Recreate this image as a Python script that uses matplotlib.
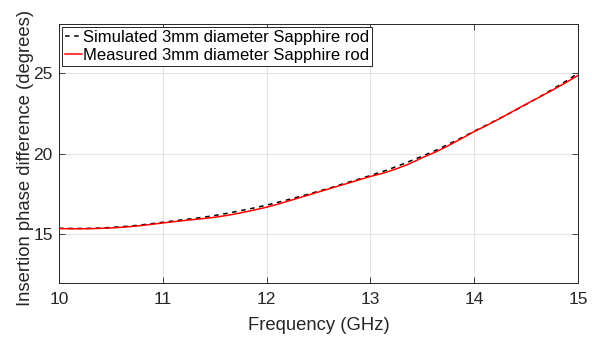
import matplotlib
matplotlib.use("Agg")
import matplotlib.pyplot as plt

plt.rcParams['font.family'] = ['Liberation Sans', 'DejaVu Sans']

freq_ghz = [10.0, 10.125, 10.25, 10.375, 10.5, 10.625, 10.75, 10.875,
            11.0, 11.125, 11.25, 11.375, 11.5, 11.625, 11.75, 11.875,
            12.0, 12.125, 12.25, 12.375, 12.5, 12.625, 12.75, 12.875,
            13.0, 13.125, 13.25, 13.375, 13.5, 13.625, 13.75, 13.875,
            14.0, 14.125, 14.25, 14.375, 14.5, 14.625, 14.75, 14.875, 15.0]
simulated_deg = [15.38, 15.37, 15.37, 15.39, 15.43, 15.49, 15.56, 15.65,
                 15.75, 15.85, 15.95, 16.05, 16.17, 16.31, 16.47, 16.63,
                 16.81, 17.01, 17.22, 17.44, 17.67, 17.90, 18.15, 18.39,
                 18.64, 18.90, 19.19, 19.51, 19.84, 20.18, 20.56, 20.96,
                 21.38, 21.78, 22.18, 22.60, 23.03, 23.48, 23.95, 24.43, 24.95]
measured_deg = [15.36, 15.35, 15.35, 15.37, 15.40, 15.45, 15.52, 15.61,
                15.71, 15.80, 15.89, 15.97, 16.06, 16.18, 16.33, 16.50,
                16.68, 16.90, 17.14, 17.38, 17.62, 17.86, 18.10, 18.34,
                18.58, 18.79, 19.05, 19.36, 19.74, 20.08, 20.48, 20.91,
                21.35, 21.75, 22.17, 22.61, 23.05, 23.47, 23.90, 24.35, 24.82]
x_ticks = [10, 11, 12, 13, 14, 15]
y_ticks = [15, 20, 25]

fig = plt.figure(figsize=(5.92, 3.37), dpi=100)
ax = fig.add_axes([59/592, 1-283/337, (578-59)/592, (283-24)/337])

ax.plot(freq_ghz, simulated_deg, color='black', linestyle=(0, (3, 3)), linewidth=1.1,
        label='Simulated 3mm diameter Sapphire rod', zorder=3)
ax.plot(freq_ghz, measured_deg, color='#ff0000', linewidth=1.1,
        label='Measured 3mm diameter Sapphire rod', zorder=4)

ax.set_xlim(10, 15)
ax.set_ylim(12, 28)
ax.set_xticks(x_ticks)
ax.set_yticks(y_ticks)
ax.grid(True, color='#e3e3e3', linewidth=0.8)
ax.set_axisbelow(True)
ax.tick_params(direction='in', top=True, right=True, labelsize=12.5,
               colors='#262626', length=4, width=0.6)
ax.tick_params(axis='x', pad=6.5)
ax.tick_params(axis='y', pad=4.5)
for sp in ax.spines.values():
    sp.set_color('#262626')
    sp.set_linewidth(0.7)

ax.set_xlabel('Frequency (GHz)', fontsize=13.3, color='#262626', labelpad=7)
ax.set_ylabel('Insertion phase difference (degrees)', fontsize=13.3, color='#262626')
ax.yaxis.set_label_coords(-(59 - 34) / (578 - 59), 0.5 - (158 - 153.5) / 259)

leg = ax.legend(loc='upper left', fontsize=12, handlelength=1.0, handletextpad=0.1,
                borderpad=0.15, borderaxespad=0.2, labelspacing=0.2, fancybox=False,
                framealpha=1, edgecolor='#262626')
leg.get_frame().set_linewidth(0.7)

fig.savefig('out.png', dpi=100)
